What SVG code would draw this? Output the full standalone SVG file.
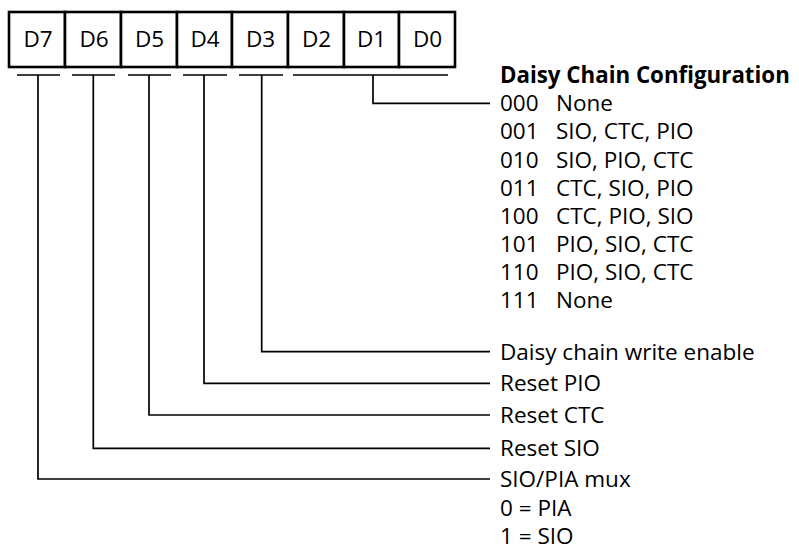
<svg xmlns="http://www.w3.org/2000/svg" width="799" height="550" viewBox="0 0 799 550">
<style>
.cell{fill:#fff;stroke:#000;stroke-width:2.6}
.bl{font-family:"Open Sans","Noto Sans",sans-serif;font-size:22.5px;fill:#000;text-anchor:middle}
.t{font-family:"Open Sans","Noto Sans",sans-serif;font-size:22.5px;fill:#000}
.h{font-weight:bold;font-size:22.3px}
.ln{fill:none;stroke:#000;stroke-width:1.7}
</style>
<rect width="799" height="550" fill="#fff"/>
<g id="register">
<g id="d7"><rect class="cell" x="9" y="12" width="56" height="55"/><text class="bl" x="38" y="46.5">D7</text></g>
<g id="d6"><rect class="cell" x="65" y="12" width="56" height="55"/><text class="bl" x="94" y="46.5">D6</text></g>
<g id="d5"><rect class="cell" x="121" y="12" width="56" height="55"/><text class="bl" x="149.5" y="46.5">D5</text></g>
<g id="d4"><rect class="cell" x="177" y="12" width="55" height="55"/><text class="bl" x="205" y="46.5">D4</text></g>
<g id="d3"><rect class="cell" x="232" y="12" width="56" height="55"/><text class="bl" x="260.5" y="46.5">D3</text></g>
<g id="d2"><rect class="cell" x="288" y="12" width="56" height="55"/><text class="bl" x="316.5" y="46.5">D2</text></g>
<g id="d1"><rect class="cell" x="344" y="12" width="55" height="55"/><text class="bl" x="371.5" y="46.5">D1</text></g>
<g id="d0"><rect class="cell" x="399" y="12" width="56" height="55"/><text class="bl" x="427.5" y="46.5">D0</text></g>
</g>
<g id="connectors">
<path class="ln" d="M17 75H60M72 75H115M128 75H171M183 75H227M239 75H283M293 75H448"/>
<path class="ln" d="M373 75V103.3H490"/>
<path class="ln" d="M261.7 75V351.7H490"/>
<path class="ln" d="M204 75V383.3H490"/>
<path class="ln" d="M149 75V415H490"/>
<path class="ln" d="M93.3 75V448.3H490"/>
<path class="ln" d="M38 75V479H490"/>
</g>
<g id="config">
<text class="t h" x="500" y="83">Daisy Chain Configuration</text>
<text class="t" x="500" y="111.3">000<tspan x="556">None</tspan></text>
<text class="t" x="500" y="139.4">001<tspan x="556">SIO, CTC, PIO</tspan></text>
<text class="t" x="500" y="167.5">010<tspan x="556">SIO, PIO, CTC</tspan></text>
<text class="t" x="500" y="195.6">011<tspan x="556">CTC, SIO, PIO</tspan></text>
<text class="t" x="500" y="223.7">100<tspan x="556">CTC, PIO, SIO</tspan></text>
<text class="t" x="500" y="251.8">101<tspan x="556">PIO, SIO, CTC</tspan></text>
<text class="t" x="500" y="279.9">110<tspan x="556">PIO, SIO, CTC</tspan></text>
<text class="t" x="500" y="308">111<tspan x="556">None</tspan></text>
</g>
<g id="labels">
<text class="t" x="500" y="359.7">Daisy chain write enable</text>
<text class="t" x="500" y="391.3">Reset PIO</text>
<text class="t" x="500" y="423">Reset CTC</text>
<text class="t" x="500" y="456.3">Reset SIO</text>
<text class="t" x="500" y="487">SIO/PIA mux</text>
<text class="t" x="500" y="515.5">0 = PIA</text>
<text class="t" x="500" y="543.5">1 = SIO</text>
</g>
</svg>
